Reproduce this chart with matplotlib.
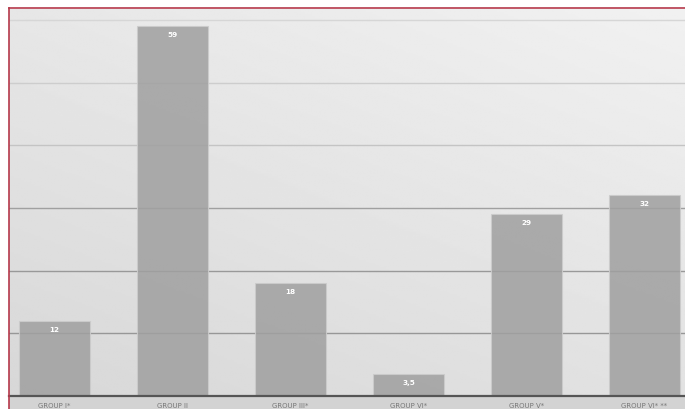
import numpy as np
import matplotlib.pyplot as plt
from matplotlib.lines import Line2D
from matplotlib.patches import Rectangle

# datos del gráfico
groups = ['GROUP I*', 'GROUP II', 'GROUP III*', 'GROUP VI*', 'GROUP V*', 'GROUP VI* **']
values = [12, 59, 18, 3.5, 29, 32]
value_labels = ['12', '59', '18', '3,5', '29', '32']
grid_levels = [10, 20, 30, 40, 50, 60]
grid_colors = ['#979797', '#999999', '#a0a0a0', '#c4c4c4', '#cdcdcd', '#d6d6d6']

W, H = 685, 410
fig = plt.figure(figsize=(W / 100, H / 100), dpi=100)
fig.patch.set_facecolor('white')

ax = fig.add_axes([9 / W, 13 / H, 676 / W, 387 / H])

# fondo con degradado (más claro arriba a la derecha)
gx, gy = np.meshgrid(np.linspace(0, 1, 200), np.linspace(0, 1, 200))
shade = 0.845 + 0.06 * gy + 0.04 * gx
ax.imshow(shade, extent=[0, 1, 0, 1], transform=ax.transAxes, origin='lower',
          cmap='gray', vmin=0, vmax=1, aspect='auto', zorder=0)

# cuadrícula detrás de las barras (las barras son algo transparentes)
for lvl, c in zip(grid_levels, grid_colors):
    ax.axhline(lvl, color=c, linewidth=1.0, zorder=1)

x = np.arange(len(groups))
ax.bar(x, values, width=0.6, color='#a0a0a0', alpha=0.86,
       edgecolor='#cccccc', linewidth=0.8, zorder=2)

for xi, v, lab in zip(x, values, value_labels):
    ax.annotate(lab, (xi, v), xytext=(0, -8), textcoords='offset pixels',
                ha='center', va='center', fontsize=5.2, fontweight='bold',
                color='white', zorder=4)

ax.set_xlim(-0.386, 5.343)
ax.set_ylim(0, 61.75)
ax.set_yticks([])
ax.set_xticks(x)
ax.set_xticklabels(groups, fontsize=5, color='#777777')
ax.tick_params(axis='x', length=0, pad=4)
for s in ['top', 'right', 'left']:
    ax.spines[s].set_visible(False)
ax.spines['bottom'].set_color('#555555')
ax.spines['bottom'].set_linewidth(1.6)
ax.spines['bottom'].set_zorder(5)

# franja gris de las etiquetas y marco rojo
fig.patches.append(Rectangle((9 / W, 0), 676 / W, 13 / H, transform=fig.transFigure,
                             facecolor='#d3d3d3', edgecolor='none', zorder=-1))
fig.lines.append(Line2D([8.5 / W, 8.5 / W], [0, 1 - 9 / H], transform=fig.transFigure,
                        color='#b5384a', linewidth=1.2))
fig.lines.append(Line2D([8.5 / W, 1], [1 - 9 / H, 1 - 9 / H], transform=fig.transFigure,
                        color='#b5384a', linewidth=1.2))

fig.savefig('out.png', dpi=100)
